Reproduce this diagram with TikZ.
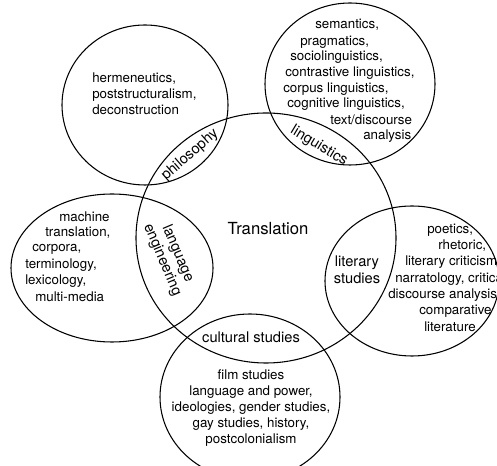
\documentclass[tikz,border=0pt]{standalone}
\usepackage{fontspec}
\setmainfont{TeX Gyre Heros}
\usetikzlibrary{shapes.geometric,positioning}

\tikzset{
	field/.style={ellipse,draw,line width=0.8pt,inner sep=0pt},
	item/.style={anchor=west,inner sep=0pt,font=\fontsize{10}{12}\selectfont},
	area/.style={inner sep=0pt,align=center,font=\fontsize{11}{12.5}\selectfont}
}

\begin{document}
\begin{tikzpicture}[x=0.75pt,y=-0.75pt,on grid]
\useasboundingbox (0,0) rectangle (497,466);
\clip (0,0) rectangle (497,466);
\node[field,minimum width=195pt,minimum height=187.5pt]	(trans)	at (266,238)					{};
\node[field,minimum width=124.5pt,minimum height=120pt]	(phil)	[above left=99.75pt and 90.75pt of trans]	{};
\node[field,minimum width=127.5pt,minimum height=121.5pt]	(ling)	[above right=115.5pt and 63pt of trans]	{};
\node[field,minimum width=151.5pt,minimum height=111pt]	(langeng)	[below left=22.5pt and 115.5pt of trans]	{};
\node[field,minimum width=130.5pt,minimum height=112.5pt]	(lit)	[below right=32.25pt and 109.5pt of trans]	{};
\node[field,minimum width=135pt,minimum height=124.5pt]	(cult)	[below left=119.25pt and 12pt of trans]	{};

% labels of the overlaps
\node[inner sep=0pt,font=\fontsize{12.5}{14}\selectfont]	(trans-t)	at (268,229)	{Translation};
\node[area,rotate=41]			(phil-t)	at (190,155)	{philosophy};
\node[area,rotate=-31]			(ling-t)	at (319,146)	{linguistics};
\node[area,rotate=-67]			(langeng-t)	at (170,257)	{language\\engineering};
\node[area]					(lit-t)	at (357,270)	{literary\\studies};
\node[area]					(cult-t)	at (251,337)	{cultural studies};

% contents of the fields
\node[item,align=left,anchor=west]	(phil-l)	at (92,94)	{hermeneutics,\\poststructuralism,\\deconstruction};
\foreach \x/\y/\t [count=\i] in {315/25/{semantics,},300/42/{pragmatics,},290/57/{sociolinguistics,},285/73/{contrastive linguistics,},283/89/{corpus linguistics,},287/104/{cognitive linguistics,},330/120/{text/discourse},363/136/{analysis}}
	\node[item]	(ling-\i)	at (\x,\y)	{\t};
\foreach \x/\y/\t [count=\i] in {59/217/{machine},45/233/{translation,},32/249/{corpora,},25/265/{terminology,},25/281/{lexicology,},35/297/{multi-media}}
	\node[item]	(langeng-\i)	at (\x,\y)	{\t};
\foreach \x/\y/\t [count=\i] in {427/230/{poetics,},438/246/{rhetoric,},405/262/{literary criticism,},395/279/{narratology, critical},388/295/{discourse analysis,},419/311/{comparative},424/327/{literature}}
	\node[item]	(lit-\i)	at (\x,\y)	{\t};
\node[item,align=center,anchor=center]	(cult-l)	at (251,408)	{film studies\\language and power,\\ideologies, gender studies,\\gay studies, history,\\postcolonialism};
\end{tikzpicture}
\end{document}
